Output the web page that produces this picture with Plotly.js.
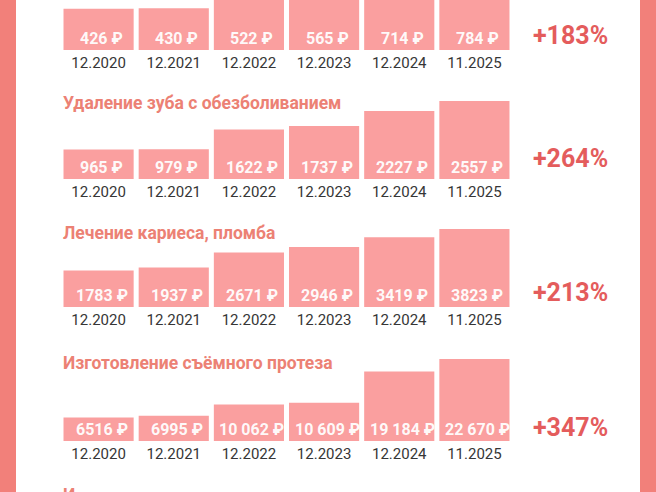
<!DOCTYPE html>
<html>
<head>
<meta charset="utf-8">
<script src="https://cdn.plot.ly/plotly-3.0.1.min.js"></script>
<style>html,body{margin:0;padding:0;background:#fff;}#chart{width:656px;height:492px;}</style>
</head>
<body>
<div id="chart"></div>
<script>
// ---- data ----
const periods = ['12.2020', '12.2021', '12.2022', '12.2023', '12.2024', '11.2025'];
const titles = ['', 'Удаление зуба с обезболиванием', 'Лечение кариеса, пломба', 'Изготовление съёмного протеза', 'И'];
const pricesPanel1 = [426, 430, 522, 565, 714, 784];
const pricesPanel2 = [965, 979, 1622, 1737, 2227, 2557];
const pricesPanel3 = [1783, 1937, 2671, 2946, 3419, 3823];
const pricesPanel4 = [6516, 6995, 10062, 10609, 19184, 22670];
const growthLabels = ['+183%', '+264%', '+213%', '+347%'];

// ---- layout config (pixels) ----
const W = 656, H = 492;
const panels = [
  {vals: pricesPanel1, base: 50, top: 0, maxPx: 76, pctY: 35},
  {vals: pricesPanel2, base: 179, top: 95, maxPx: 78, pctY: 158},
  {vals: pricesPanel3, base: 307, top: 220, maxPx: 78, pctY: 292},
  {vals: pricesPanel4, base: 441, top: 350, maxPx: 82, pctY: 427}
];
const titleYs = [null, 103, 233, 363, 495];

const barColor = '#FA9F9F';
const titleColor = '#EC8174';
const pctColor = '#E45C5C';
const borderColor = '#F2807A';
const font = 'Roboto, "Noto Sans", sans-serif';

function fmtRub(v) {
  const s = v >= 10000 ? (Math.floor(v / 1000) + ' ' + String(v % 1000).padStart(3, '0')) : String(v);
  return s + ' ₽';
}

const data = [];
const layout = {
  width: W, height: H,
  margin: {l: 0, r: 0, t: 0, b: 0},
  paper_bgcolor: '#fff', plot_bgcolor: 'rgba(0,0,0,0)',
  showlegend: false,
  bargap: 5 / 75,
  font: {family: font},
  annotations: [],
  shapes: [
    {type: 'rect', xref: 'paper', yref: 'paper', x0: 0, x1: 16 / W, y0: 0, y1: 1, fillcolor: borderColor, line: {width: 0}, layer: 'below'},
    {type: 'rect', xref: 'paper', yref: 'paper', x0: 640 / W, x1: 1, y0: 0, y1: 1, fillcolor: borderColor, line: {width: 0}, layer: 'below'}
  ]
};

panels.forEach((p, i) => {
  const n = i + 1;
  const xa = 'x' + (n === 1 ? '' : n), ya = 'y' + (n === 1 ? '' : n);
  const xk = 'xaxis' + (n === 1 ? '' : n), yk = 'yaxis' + (n === 1 ? '' : n);
  const maxV = Math.max(...p.vals);
  const rangeTop = maxV * (p.base - p.top) / p.maxPx;
  data.push({
    type: 'bar', x: periods, y: p.vals, xaxis: xa, yaxis: ya,
    marker: {color: barColor, line: {width: 0}},
    hoverinfo: 'skip'
  });
  layout[xk] = {
    domain: [61 / W, 512 / W], anchor: ya, type: 'category',
    range: [-0.5, 5.5], showgrid: false, zeroline: false, showline: false, ticks: '',
    tickfont: {family: font, size: 15, color: '#363636'}, ticklabelstandoff: 2, fixedrange: true
  };
  layout[yk] = {
    domain: [1 - p.base / H, 1 - p.top / H], anchor: xa,
    range: [0, rangeTop], showgrid: false, zeroline: false, showline: false,
    showticklabels: false, ticks: '', fixedrange: true
  };
  p.vals.forEach((v, j) => {
    layout.annotations.push({
      xref: xa, yref: ya, x: j, y: 0, yanchor: 'bottom', xanchor: 'center',
      xshift: 3, yshift: 0, showarrow: false, text: fmtRub(v),
      font: {family: font, size: 16, color: 'rgba(255,255,255,0.95)', weight: 'bold'}
    });
  });
  layout.annotations.push({
    xref: 'paper', yref: 'paper', x: 570 / W, y: 1 - p.pctY / H, xanchor: 'center', yanchor: 'middle',
    showarrow: false, text: growthLabels[i],
    font: {family: font, size: 25, color: pctColor, weight: 'bold'}
  });
});

titles.forEach((t, i) => {
  if (!t) return;
  layout.annotations.push({
    xref: 'paper', yref: 'paper', x: 61 / W, y: 1 - titleYs[i] / H, xanchor: 'left', yanchor: 'middle',
    showarrow: false, text: t,
    font: {family: font, size: 17.5, color: titleColor, weight: 'bold'}
  });
});

Plotly.newPlot('chart', data, layout, {displayModeBar: false, staticPlot: true});
</script>
</body>
</html>
